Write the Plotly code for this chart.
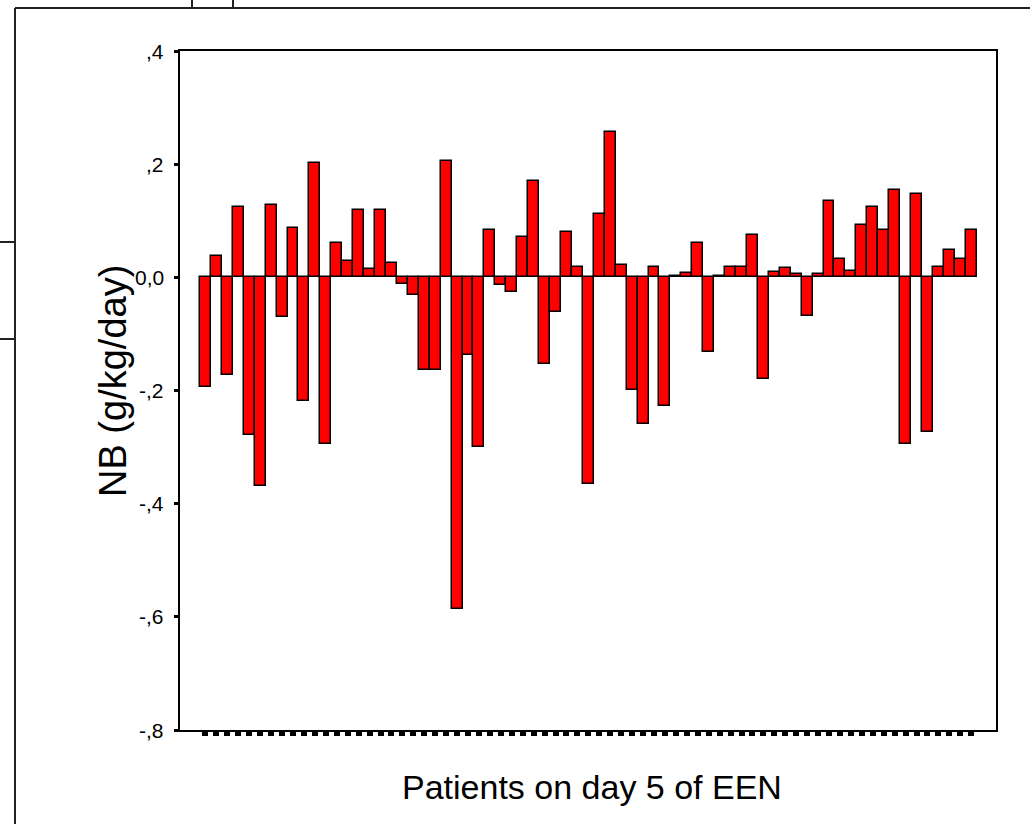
import plotly.graph_objects as go

# ---- data ----
patients = list(range(71))
nb_values = [
    -0.193, 0.038, -0.173, 0.125, -0.279, -0.369, 0.128, -0.070, 0.087, -0.219,
    0.202, -0.295, 0.061, 0.029, 0.119, 0.015, 0.119, 0.025, -0.012, -0.032,
    -0.163, -0.163, 0.205, -0.587, -0.138, -0.299, 0.083, -0.013, -0.026, 0.071,
    0.170, -0.154, -0.061, 0.080, 0.019, -0.366, 0.112, 0.257, 0.022, -0.199,
    -0.260, 0.019, -0.228, 0.003, 0.007, 0.061, -0.132, 0.003, 0.019, 0.019,
    0.074, -0.180, 0.009, 0.016, 0.006, -0.068, 0.006, 0.135, 0.032, 0.012,
    0.093, 0.125, 0.083, 0.154, -0.295, 0.147, -0.273, 0.019, 0.048, 0.032,
    0.083,
]
y_tick_vals = [0.4, 0.2, 0.0, -0.2, -0.4, -0.6, -0.8]
y_tick_text = [",4", ",2", "0,0", "-,2", "-,4", "-,6", "-,8"]
x_title = "Patients on day 5 of EEN"
y_title = "NB (g/kg/day)"

W, H = 1030, 824
L, R, T, B = 180, 34, 51, 94
pw, ph = W - L - R, H - T - B


def px(x):
    return (x - L) / pw


def py(y):
    return (H - B - y) / ph


fig = go.Figure(
    go.Bar(
        x=patients,
        y=nb_values,
        marker=dict(color="#ff0000", line=dict(color="black", width=1.5)),
        width=1.0,
    )
)

fig.update_layout(
    width=W,
    height=H,
    margin=dict(l=L, r=R, t=T, b=B, pad=0),
    paper_bgcolor="white",
    plot_bgcolor="white",
    bargap=0,
    showlegend=False,
    font=dict(family="Liberation Sans, Arial", color="black"),
    xaxis=dict(
        range=[-2.328, 72.264],
        showgrid=False,
        zeroline=False,
        showline=True,
        linecolor="black",
        linewidth=2,
        mirror=True,
        tickmode="array",
        tickvals=patients,
        ticks="outside",
        ticklen=4,
        tickwidth=6,
        tickcolor="black",
        showticklabels=False,
    ),
    yaxis=dict(
        range=[-0.8, 0.4],
        showgrid=False,
        zeroline=False,
        showline=True,
        linecolor="black",
        linewidth=2,
        mirror=True,
        tickmode="array",
        tickvals=y_tick_vals,
        ticks="outside",
        ticklen=4,
        tickwidth=3,
        tickcolor="black",
        showticklabels=False,
    ),
)

# y tick labels placed on the y scale
for v, t in zip(y_tick_vals, y_tick_text):
    fig.add_annotation(
        text=t, xref="paper", yref="y", x=px(166), y=v,
        xanchor="right", yanchor="middle", showarrow=False,
        font=dict(size=21, family="Liberation Sans, Arial", color="black"),
    )

fig.add_annotation(
    text=x_title, xref="paper", yref="paper", x=px(592), y=py(787),
    xanchor="center", yanchor="middle", showarrow=False,
    font=dict(size=34, family="Liberation Sans, Arial", color="black"),
)
fig.add_annotation(
    text=y_title, xref="paper", yref="paper", x=px(113), y=py(381),
    xanchor="center", yanchor="middle", showarrow=False, textangle=-90,
    font=dict(size=38, family="Liberation Sans, Arial", color="black"),
)

# outer frame fragments
line_style = dict(color="#222222", width=2)
frame_lines = [
    (15, 8, 15, 824),
    (15, 8, 1030, 8),
    (192, 0, 192, 8),
    (233, 0, 233, 8),
    (0, 242, 15, 242),
    (0, 339, 15, 339),
]
for x0, y0, x1, y1 in frame_lines:
    fig.add_shape(type="line", xref="paper", yref="paper",
                  x0=px(x0), y0=py(y0), x1=px(x1), y1=py(y1), line=line_style)

fig.write_html("out.html")
